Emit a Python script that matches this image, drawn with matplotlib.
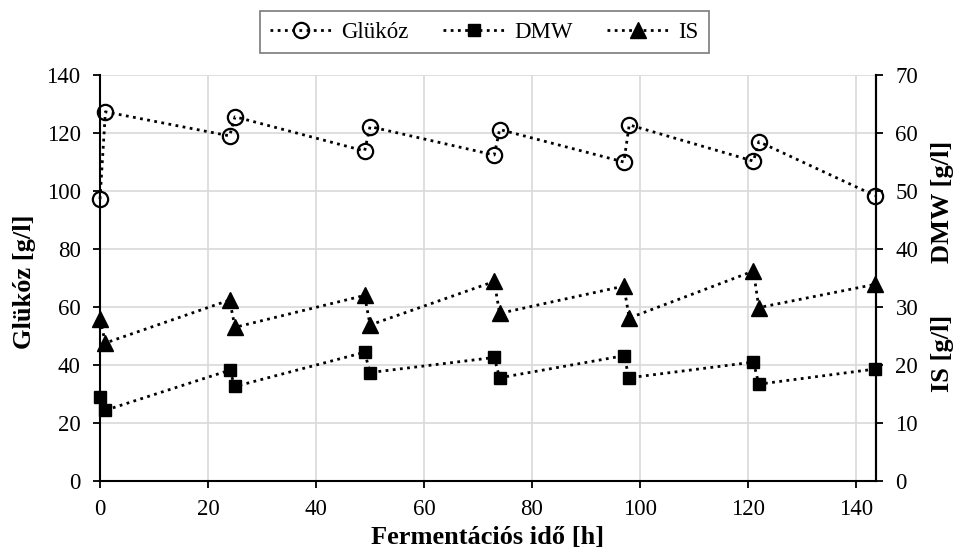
import numpy as np
import matplotlib.pyplot as plt

plt.rcParams['font.family'] = ['Liberation Serif', 'DejaVu Serif']

# mintavételi idők [h]
ido = [0, 1, 24, 25, 49, 50, 73, 74, 97, 98, 121, 122, 143.5]

# mért koncentrációk [g/l]
glukoz = [97.2, 127.3, 119.0, 125.6, 113.8, 122.2, 112.4, 121.2, 110.0, 122.8, 110.3, 117.0, 98.4]
dmw = [14.4, 12.2, 19.1, 16.3, 22.2, 18.7, 21.3, 17.8, 21.6, 17.8, 20.5, 16.7, 19.3]
is_ = [27.9, 23.8, 31.2, 26.5, 32.0, 26.9, 34.4, 28.9, 33.6, 28.1, 36.2, 29.9, 33.9]

x_ticks = np.arange(0, 141, 20)
y_ticks_left = np.arange(0, 141, 20)
y_ticks_right = np.arange(0, 71, 10)

DOTS = (0, (1, 1.6))
GRID_COLOR = '#d9d9d9'
TICK_FS = 16.5
LABEL_FS = 19

fig = plt.figure(figsize=(9.57, 5.55), dpi=100)
ax = fig.add_axes([0.1045, 0.1333, 0.8109, 0.7316])
ax2 = ax.twinx()

ax.plot(ido, glukoz, linestyle=DOTS, linewidth=2, color='black', marker='o',
        markersize=11, markerfacecolor='none', markeredgecolor='black',
        markeredgewidth=1.6, label='Glükóz', zorder=3, clip_on=False)
ax2.plot(ido, dmw, linestyle=DOTS, linewidth=2, color='black', marker='s',
         markersize=8.5, label='DMW', zorder=3, clip_on=False)
ax2.plot(ido, is_, linestyle=DOTS, linewidth=2, color='black', marker='^',
         markersize=11, label='IS', zorder=3, clip_on=False)

ax.set_xlim(0, 143.7)
ax.set_ylim(0, 140)
ax2.set_ylim(0, 70)
ax.set_xticks(x_ticks)
ax.set_yticks(y_ticks_left)
ax2.set_yticks(y_ticks_right)

ax.grid(True, color=GRID_COLOR, linewidth=1.2)
ax.set_axisbelow(True)

for a in (ax, ax2):
    a.spines['top'].set_visible(False)
    for s in ('left', 'right', 'bottom'):
        a.spines[s].set_linewidth(1.5)
        a.spines[s].set_color('black')
    a.tick_params(labelsize=TICK_FS, direction='out', length=5, width=1.3,
                  colors='black', pad=9)
ax.tick_params(axis='x', pad=8)
ax2.spines['left'].set_visible(False)
ax2.spines['bottom'].set_visible(False)

# tengelyfeliratok
fig.text(0.509, 0.031, 'Fermentációs idő [h]', fontsize=LABEL_FS, fontweight='bold',
         ha='center', va='center')
fig.text(0.026, 0.493, 'Glükóz [g/l]', rotation=90, fontsize=LABEL_FS, fontweight='bold',
         ha='center', va='center')
fig.text(0.985, 0.636, 'DMW [g/l]', rotation=90, fontsize=LABEL_FS, fontweight='bold',
         ha='center', va='center')
fig.text(0.985, 0.364, 'IS [g/l]', rotation=90, fontsize=LABEL_FS, fontweight='bold',
         ha='center', va='center')

h1, l1 = ax.get_legend_handles_labels()
h2, l2 = ax2.get_legend_handles_labels()
leg = fig.legend(h1 + h2, l1 + l2, loc='center', bbox_to_anchor=(0.506, 0.942),
                 ncol=3, fontsize=TICK_FS, fancybox=False, edgecolor='#595959',
                 handlelength=2.7, handletextpad=0.4, columnspacing=1.5,
                 borderpad=0.45, borderaxespad=0)
leg.get_frame().set_linewidth(1.2)

fig.savefig('out.png', dpi=100)
